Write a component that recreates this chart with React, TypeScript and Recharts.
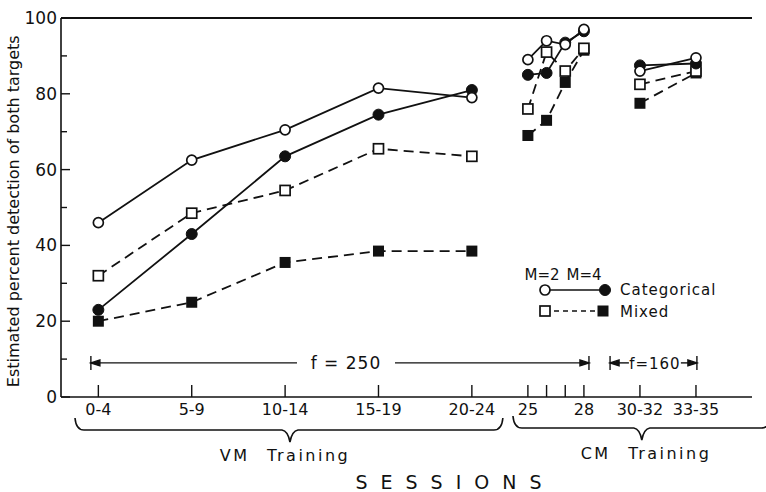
import React from 'react';
import { LineChart, Line, XAxis, YAxis, ReferenceLine } from 'recharts';

// sessions on the x axis, positioned at their midpoints
const sessionLabels = ['0-4', '5-9', '10-14', '15-19', '20-24', '25', '26', '27', '28', '30-32', '33-35'];
const sessionMid = [2, 7, 12, 17, 22, 25, 26, 27, 28, 31, 34];
const hiddenLabels = ['26', '27'];
// breaks between VM / CM (f=250) / CM (f=160) segments
const breaks = [23.5, 29.5];

const categoricalM2 = [46, 62.5, 70.5, 81.5, 79, 89, 94, 93, 97, 86, 89.5];
const categoricalM4 = [23, 43, 63.5, 74.5, 81, 85, 85.5, 93.5, 96.5, 87.5, 88];
const mixedM2 = [32, 48.5, 54.5, 65.5, 63.5, 76, 91, 86, 92, 82.5, 86];
const mixedM4 = [20, 25, 35.5, 38.5, 38.5, 69, 73, 83, 91.5, 77.5, 85.5];

const yTicks = [0, 10, 20, 30, 40, 50, 60, 70, 80, 90, 100];

const W = 766, H = 492;
const MARGIN = { top: 18, right: 14, bottom: 0, left: 22 };
const YAXIS_W = 39, XAXIS_H = 95;
const X_DOMAIN: [number, number] = [0, 37];
const PLOT_LEFT = MARGIN.left + YAXIS_W;
const PLOT_RIGHT = W - MARGIN.right;
const PLOT_TOP = MARGIN.top;
const PLOT_BOTTOM = H - XAXIS_H;
const FONT = '"DejaVu Sans", sans-serif';
const INK = '#111';

const sx = (s: number) => PLOT_LEFT + ((s - X_DOMAIN[0]) / (X_DOMAIN[1] - X_DOMAIN[0])) * (PLOT_RIGHT - PLOT_LEFT);
const sy = (v: number) => PLOT_BOTTOM - (v / 100) * (PLOT_BOTTOM - PLOT_TOP);

const data = [
  ...sessionMid.map((x, i) => ({
    x,
    catM2: categoricalM2[i],
    catM4: categoricalM4[i],
    mixM2: mixedM2[i],
    mixM4: mixedM4[i],
  })),
  ...breaks.map(x => ({ x, catM2: null, catM4: null, mixM2: null, mixM4: null })),
].sort((a, b) => a.x - b.x);

const markers = {
  openCircle: (cx: number, cy: number) => <circle cx={cx} cy={cy} r={5} fill="#fff" stroke={INK} strokeWidth={1.7} />,
  fullCircle: (cx: number, cy: number) => <circle cx={cx} cy={cy} r={5.5} fill={INK} stroke={INK} strokeWidth={1} />,
  openSquare: (cx: number, cy: number) => <rect x={cx - 5} y={cy - 5} width={10} height={10} fill="#fff" stroke={INK} strokeWidth={1.7} />,
  fullSquare: (cx: number, cy: number) => <rect x={cx - 5.5} y={cy - 5.5} width={11} height={11} fill={INK} />,
};

const makeDot = (kind: keyof typeof markers) => (p: any) => {
  const k = `${kind}-${p.index}`;
  if (p.cx == null || p.cy == null || p.value == null || (Array.isArray(p.value) && p.value[1] == null)) return <g key={k} />;
  return <g key={k}>{markers[kind](p.cx, p.cy)}</g>;
};

const XTick = (props: any) => {
  const x = props.payload.coordinate ?? props.x;
  const i = sessionMid.indexOf(props.payload.value);
  const label = sessionLabels[i];
  return (
    <g>
      <line x1={x} x2={x} y1={PLOT_BOTTOM} y2={PLOT_BOTTOM - 12} stroke={INK} strokeWidth={1.4} />
      {label && !hiddenLabels.includes(label) && (
        <text x={x} y={PLOT_BOTTOM + 18} textAnchor="middle" fontSize={16} fontFamily={FONT} fill={INK}>{label}</text>
      )}
    </g>
  );
};

const YTick = (props: any) => {
  const y = props.payload.coordinate ?? props.y;
  const v = props.payload.value;
  const major = v % 20 === 0;
  return (
    <g>
      <line x1={PLOT_LEFT} x2={PLOT_LEFT + (major ? 9 : 6)} y1={y} y2={y} stroke={INK} strokeWidth={1.4} />
      {major && (
        <text x={PLOT_LEFT - 4} y={y + 6} textAnchor="end" fontSize={17} fontFamily={FONT} fill={INK}>{v}</text>
      )}
    </g>
  );
};

function DimArrow({ from, to, y, label, at, gap, size }: { from: number; to: number; y: number; label: string; at: number; gap: number; size: number }) {
  const x1 = sx(from), x2 = sx(to), xc = sx(at);
  return (
    <g stroke={INK} strokeWidth={1.4}>
      <line x1={x1} x2={x1} y1={y - 7} y2={y + 7} />
      <line x1={x2} x2={x2} y1={y - 7} y2={y + 7} />
      <line x1={x1} x2={xc - gap / 2} y1={y} y2={y} />
      <line x1={xc + gap / 2} x2={x2} y1={y} y2={y} />
      <path d={`M${x1} ${y} l9 -3 l0 6 z`} fill={INK} />
      <path d={`M${x2} ${y} l-9 -3 l0 6 z`} fill={INK} />
      <text x={xc} y={y + 6} textAnchor="middle" fontSize={size} fontFamily={FONT} fill={INK} stroke="none" letterSpacing={1}>{label}</text>
    </g>
  );
}

function Brace({ from, to, apex, y }: { from: number; to: number; apex: number; y: number }) {
  const a = sx(from), b = sx(to), c = sx(apex);
  const d = `M${a} ${y - 12} Q${a + 1} ${y} ${a + 9} ${y} L${c - 8} ${y} Q${c - 2} ${y + 1} ${c} ${y + 12} Q${c + 2} ${y + 1} ${c + 8} ${y} L${b - 9} ${y} Q${b - 1} ${y} ${b} ${y - 12}`;
  return <path d={d} fill="none" stroke={INK} strokeWidth={1.6} />;
}

export default function App() {
  return (
    <div style={{ position: 'absolute', left: 0, top: 0, width: W, height: H, background: '#fff' }}>
      <LineChart width={W} height={H} data={data} margin={MARGIN}>
        <XAxis
          dataKey="x"
          type="number"
          domain={X_DOMAIN}
          ticks={sessionMid}
          interval={0}
          height={XAXIS_H}
          tick={XTick}
          tickLine={false}
          axisLine={{ stroke: INK, strokeWidth: 1.6 }}
          allowDataOverflow
        />
        <YAxis
          type="number"
          domain={[0, 100]}
          ticks={yTicks}
          interval={0}
          width={YAXIS_W}
          tick={YTick}
          tickLine={false}
          axisLine={{ stroke: INK, strokeWidth: 1.6 }}
        />
        <ReferenceLine y={100} stroke={INK} strokeWidth={2} />
        <Line dataKey="mixM4" stroke={INK} strokeWidth={1.8} strokeDasharray="10 6" dot={makeDot('fullSquare')} isAnimationActive={false} connectNulls={false} />
        <Line dataKey="mixM2" stroke={INK} strokeWidth={1.8} strokeDasharray="10 6" dot={makeDot('openSquare')} isAnimationActive={false} connectNulls={false} />
        <Line dataKey="catM4" stroke={INK} strokeWidth={1.8} dot={makeDot('fullCircle')} isAnimationActive={false} connectNulls={false} />
        <Line dataKey="catM2" stroke={INK} strokeWidth={1.8} dot={makeDot('openCircle')} isAnimationActive={false} connectNulls={false} />
      </LineChart>

      <svg width={W} height={H} style={{ position: 'absolute', left: 0, top: 0, pointerEvents: 'none' }}>
        <text transform={`translate(19 ${sy(49)}) rotate(-90)`} textAnchor="middle" fontSize={16} fontFamily={FONT} fill={INK}>
          Estimated percent detection of both targets
        </text>

        <DimArrow from={1.6} to={28.27} y={sy(9)} label="f = 250" at={15.26} gap={98} size={17} />
        <DimArrow from={29.4} to={34.05} y={sy(9)} label="f=160" at={31.8} gap={52} size={15} />

        {/* legend */}
        <g fontFamily={FONT} fill={INK} fontSize={15}>
          <text x={542} y={280} textAnchor="middle">M=2</text>
          <text x={584} y={280} textAnchor="middle">M=4</text>
          <line x1={545} x2={605} y1={290} y2={290} stroke={INK} strokeWidth={1.6} />
          {markers.openCircle(545, 290)}
          {markers.fullCircle(605, 290)}
          <text x={620} y={295} fontSize={15} letterSpacing={1}>Categorical</text>
          <line x1={545} x2={603} y1={311} y2={311} stroke={INK} strokeWidth={1.6} strokeDasharray="5 4" />
          {markers.openSquare(545, 311)}
          {markers.fullSquare(603, 311)}
          <text x={620} y={317} fontSize={15} letterSpacing={1}>Mixed</text>
        </g>

        <Brace from={0.75} to={23.66} apex={12.26} y={430} />
        <Brace from={24.2} to={38} apex={31.1} y={428} />
        <g fontFamily={FONT} fill={INK}>
          <text x={285} y={461} textAnchor="middle" fontSize={16} letterSpacing={2.5} wordSpacing={10}>VM Training</text>
          <text x={646} y={459} textAnchor="middle" fontSize={16} letterSpacing={2.5} wordSpacing={10}>CM Training</text>
          <text x={455} y={489} textAnchor="middle" fontSize={19} letterSpacing={13}>SESSIONS</text>
        </g>
      </svg>
    </div>
  );
}
